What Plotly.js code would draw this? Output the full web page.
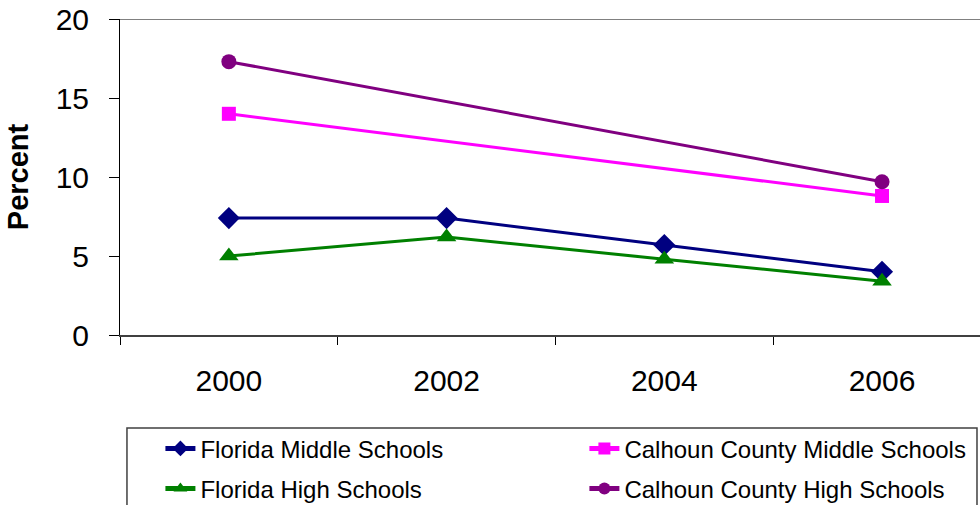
<!DOCTYPE html>
<html>
<head>
<meta charset="utf-8">
<script src="https://cdn.plot.ly/plotly-3.0.1.min.js"></script>
<style>html,body{margin:0;padding:0;background:#fff;}#chart{width:980px;height:505px;}</style>
</head>
<body>
<div id="chart"></div>
<script>
const years = ["2000", "2002", "2004", "2006"];
const floridaMiddle = [7.4, 7.4, 5.7, 4.0];
const calhounMiddle = [14.0, null, null, 8.8];
const floridaHigh = [5.0, 6.2, 4.8, 3.4];
const calhounHigh = [17.3, null, null, 9.7];

const xIdx = years.map((_, i) => i);
const boundaries = years.map((_, i) => i - 0.5);

function series(name, y, color, symbol, size, legendId) {
  return {
    type: 'scatter', mode: 'lines+markers', name: name,
    x: xIdx, y: y, connectgaps: true, legend: legendId,
    line: {color: color, width: 3},
    marker: {color: color, symbol: symbol, size: size}
  };
}

const data = [
  series('Florida Middle Schools', floridaMiddle, '#000080', 'diamond', 17, 'legend'),
  series('Calhoun County Middle Schools', calhounMiddle, '#FF00FF', 'square', 14, 'legend2'),
  series('Florida High Schools', floridaHigh, '#008000', 'triangle-up', 17, 'legend3'),
  series('Calhoun County High Schools', calhounHigh, '#800080', 'circle', 15, 'legend4')
];

function legendAt(x, y) {
  return {
    orientation: 'v', x: x, y: y, xanchor: 'left', yanchor: 'top',
    borderwidth: 0, bgcolor: 'rgba(0,0,0,0)',
    font: {size: 24, color: '#000'}, itemsizing: 'constant'
  };
}

const layout = {
  width: 980, height: 505,
  margin: {l: 120, r: 0, t: 19, b: 170, autoexpand: false},
  paper_bgcolor: '#fff', plot_bgcolor: '#fff',
  font: {family: 'Liberation Sans, Arial, sans-serif', color: '#000'},
  showlegend: true,
  xaxis: {
    range: [-0.5, 3.45], fixedrange: true,
    tickmode: 'array', tickvals: xIdx, ticktext: years,
    ticks: '', ticklen: 0, ticklabelstandoff: 18,
    tickfont: {size: 30},
    showgrid: false, zeroline: false,
    showline: true, linecolor: '#404040', linewidth: 2,
    minor: {tickmode: 'array', tickvals: boundaries, ticks: 'outside', ticklen: 8, tickcolor: '#000', tickwidth: 1, showgrid: false}
  },
  yaxis: {
    range: [0, 20], fixedrange: true,
    tickvals: [0, 5, 10, 15, 20],
    ticks: 'outside', ticklen: 10, tickcolor: '#000', tickwidth: 1,
    ticklabelstandoff: 14,
    tickfont: {size: 30},
    showgrid: false, zeroline: false,
    showline: true, linecolor: '#000', linewidth: 1,
    title: {text: '<b>Percent</b>', font: {size: 29}, standoff: 18}
  },
  shapes: [
    {type: 'line', xref: 'paper', yref: 'y', x0: 0, x1: 1, y0: 20, y1: 20, line: {color: '#808080', width: 2}},
    {type: 'rect', xref: 'paper', yref: 'paper', x0: 0.0081, x1: 0.9965, y0: -0.294, y1: -0.62, line: {color: '#404040', width: 1.5}, fillcolor: 'rgba(0,0,0,0)'}
  ],
  legend: legendAt(0.047, -0.289),
  legend2: legendAt(0.540, -0.289),
  legend3: legendAt(0.047, -0.416),
  legend4: legendAt(0.540, -0.416)
};

Plotly.newPlot('chart', data, layout, {displayModeBar: false, staticPlot: true});
</script>
</body>
</html>
